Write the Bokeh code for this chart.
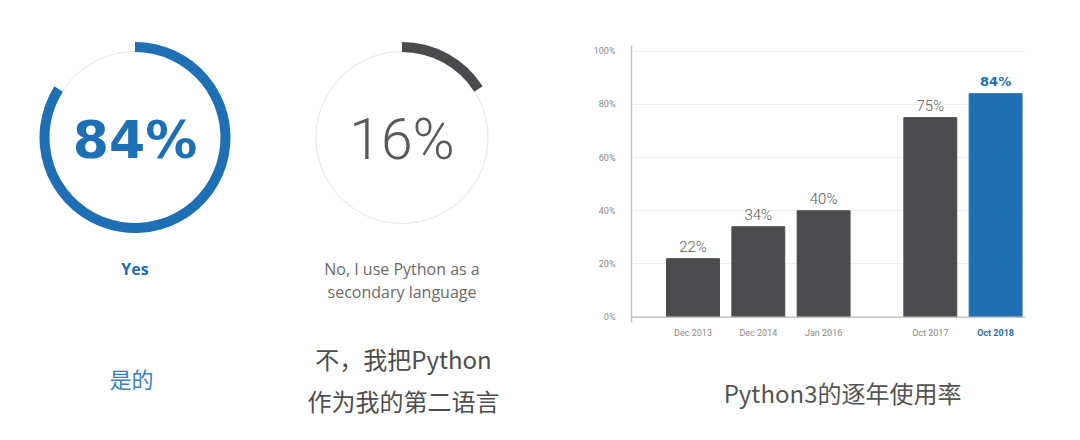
from math import pi

from bokeh.core.properties import value
from bokeh.embed import file_html
from bokeh.layouts import row
from bokeh.models import (ColumnDataSource, FixedTicker, PrintfTickFormatter,
                          Range1d, Span)
from bokeh.plotting import figure
from bokeh.resources import INLINE

# ---------------- data ----------------
answer_labels = ["Yes", "No, I use Python as a\nsecondary language"]
answer_share = [84, 16]
answer_labels_zh = ["是的", "不，我把Python\n作为我的第二语言"]

periods = ["Dec 2013", "Dec 2014", "Jan 2016", "Oct 2017", "Oct 2018"]
python3_share = [22, 34, 40, 75, 84]
y_ticks = [0, 20, 40, 60, 80, 100]
chart_title = "Python3的逐年使用率"

# ---------------- styles ----------------
BLUE = "#1f6fb5"
DARK = "#4b4b4d"
GRAY_TXT = "#5a5a5a"
ZH_TXT = "#4d4d4d"
H = 440

# ---------------- left panel: two donuts ----------------
left = figure(width=568, height=H, x_range=Range1d(0, 568), y_range=Range1d(0, H),
              output_backend="svg", toolbar_location=None, min_border=0,
              x_axis_location=None, y_axis_location=None)
left.grid.visible = False
left.outline_line_color = None

cx = [134.5, 401.5]
cy = [H - 137, H - 137]
ring_colors = [BLUE, DARK]

left.circle(x=cx, y=cy, radius=86, fill_color=None, line_color="#e4e4e4", line_width=1)

donut_src = ColumnDataSource(dict(
    x=cx, y=cy,
    start=[pi / 2 for _ in answer_share],
    end=[pi / 2 - 2 * pi * s / 100 for s in answer_share],
    color=ring_colors,
))
left.annular_wedge(x="x", y="y", inner_radius=85.5, outer_radius=95.5,
                   start_angle="start", end_angle="end", direction="clock",
                   color="color", source=donut_src, line_color=None)

# centre numbers
left.text(x=[cx[0]], y=[H - 139], text=[f"{answer_share[0]}%"], text_font=value("DejaVu Sans"),
          text_font_style="bold", text_font_size="52px", text_color=BLUE,
          text_align="center", text_baseline="middle")
left.text(x=[cx[1]], y=[H - 138.5], text=[f"{answer_share[1]}%"], text_font=value("Roboto Light"),
          text_font_size="57px", text_color=GRAY_TXT,
          text_align="center", text_baseline="middle")

# english captions
left.text(x=[cx[0]], y=[H - 268], text=[answer_labels[0]], text_font=value("Open Sans"),
          text_font_style="bold", text_font_size="16px", text_color=BLUE,
          text_align="center", text_baseline="middle")
left.text(x=[cx[1]], y=[H - 280], text=[answer_labels[1]], text_font=value("Open Sans"),
          text_font_size="16px", text_color="#6a6a6a", text_line_height=1.09,
          text_align="center", text_baseline="middle")

# chinese captions
left.text(x=[131], y=[H - 377], text=[answer_labels_zh[0]], text_font=value("Noto Sans CJK SC"),
          text_font_size="22px", text_color="#3a7fc0",
          text_align="center", text_baseline="middle")
left.text(x=[403], y=[H - 379], text=[answer_labels_zh[1]], text_font=value("Noto Sans CJK SC"),
          text_font_size="24px", text_color=ZH_TXT, text_line_height=1.21,
          text_align="center", text_baseline="middle")

# ---------------- right panel: bar chart ----------------
right = figure(width=512, height=H, x_range=Range1d(-0.942, 5.092), y_range=Range1d(-46.34, 119.02),
               output_backend="svg", toolbar_location=None, x_axis_location=None,
               min_border_left=63, min_border_right=55, min_border_top=0, min_border_bottom=0)
right.outline_line_color = None
right.xgrid.visible = False
right.ygrid.ticker = FixedTicker(ticks=y_ticks)
right.ygrid.grid_line_color = "#eeeeee"

yax = right.yaxis[0]
yax.ticker = FixedTicker(ticks=y_ticks)
yax.formatter = PrintfTickFormatter(format="%d%%")
yax.bounds = (-2, 102.1)
yax.major_tick_out = 0
yax.major_tick_in = 0
yax.minor_tick_out = 0
yax.minor_tick_in = 0
yax.major_label_standoff = 16
yax.major_label_text_font = "Roboto"
yax.major_label_text_font_size = "9px"
yax.major_label_text_color = "#8a8a8a"
yax.axis_line_color = "#c4c4c4"
yax.axis_line_width = 1.5

right.add_layout(Span(location=0, dimension="width", line_color="#c4c4c4", line_width=1.5))

gap = 0.634
xpos = [i + (gap if i >= 3 else 0) for i in range(len(periods))]
bar_colors = [DARK] * (len(periods) - 1) + [BLUE]

bar_src = ColumnDataSource(dict(x=xpos, top=python3_share, color=bar_colors))
right.vbar(x="x", top="top", bottom=0, width=0.81, color="color", source=bar_src)

n = len(periods)
right.text(x=xpos[:n - 1], y=python3_share[:n - 1], text=[f"{v}%" for v in python3_share[:n - 1]],
           text_font=value("Roboto Light"), text_font_size="15px", text_color=GRAY_TXT,
           text_align="center", text_baseline="middle", y_offset=-12)
right.text(x=xpos[n - 1:], y=python3_share[n - 1:], text=[f"{v}%" for v in python3_share[n - 1:]],
           text_font=value("DejaVu Sans"), text_font_style="bold", text_font_size="13px",
           text_color=BLUE, text_align="center", text_baseline="middle", y_offset=-12)

# category labels under the bars
right.text(x=xpos[:n - 1], y=[-5.86] * (n - 1), text=periods[:n - 1],
           text_font=value("Roboto"), text_font_size="9px", text_color="#8a8a8a",
           text_align="center", text_baseline="middle")
right.text(x=xpos[n - 1:], y=[-5.86], text=periods[n - 1:],
           text_font=value("Roboto"), text_font_style="bold", text_font_size="9px",
           text_color=BLUE, text_align="center", text_baseline="middle")

# caption
right.text(x=[2.29], y=[-28.3], text=[chart_title], text_font=value("Noto Sans CJK SC"),
           text_font_size="24px", text_color="#555555",
           text_align="center", text_baseline="middle")

page = row(left, right)
open("out.html", "w").write(file_html(page, INLINE))
